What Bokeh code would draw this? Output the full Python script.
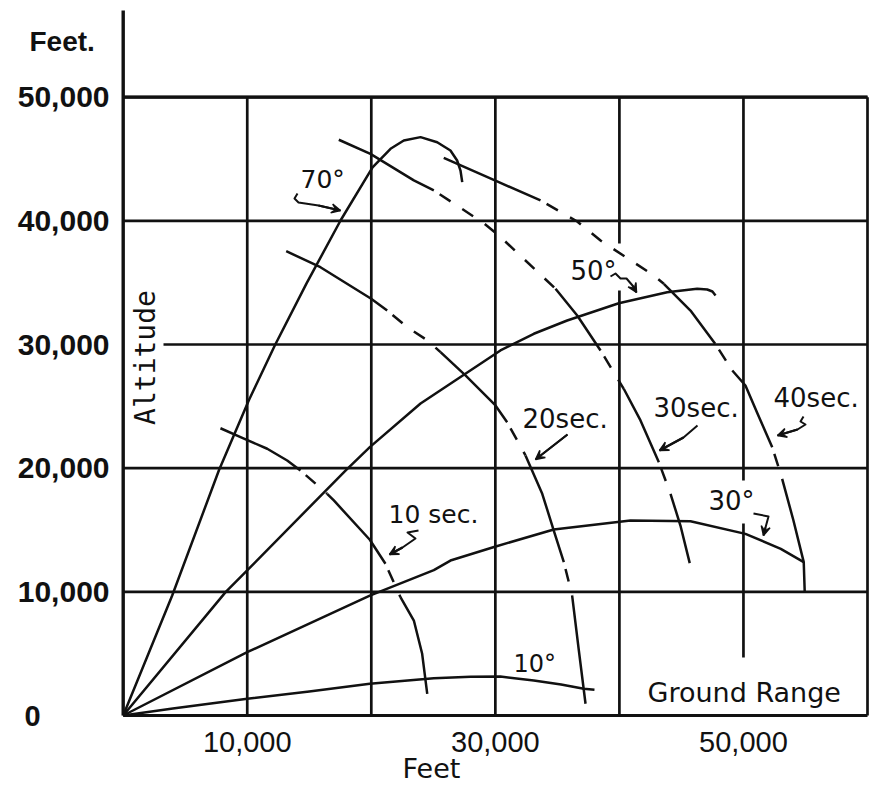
import math
from bokeh.plotting import figure
from bokeh.models import Range1d, Label, Arrow, VeeHead
from bokeh.embed import file_html
from bokeh.resources import INLINE

# ---------------- data (feet) ----------------
# trajectories (ground range, altitude) for each elevation
TRAJ_70_X = [0, 3950, 7710, 10120, 12220, 14780, 17520, 20100, 21550, 22620, 23970, 25310, 26380, 26920, 27190, 27330]
TRAJ_70_Y = [0, 9700, 19810, 25470, 29920, 34940, 40030, 44320, 45830, 46500, 46770, 46360, 45690, 44880, 44070, 43130]

TRAJ_50_X = [0, 8270, 9995, 17920, 19880, 23970, 30410, 33100, 35790, 39950, 43850, 46270, 47080, 47500, 47750]
TRAJ_50_Y = [0, 10000, 11730, 19810, 21700, 25230, 29520, 30870, 31940, 33340, 34230, 34510, 34450, 34290, 33970]

TRAJ_30_X = [0, 9995, 19880, 25040, 26380, 29830, 34710, 40890, 45730, 50160, 53010, 54860]
TRAJ_30_Y = [0, 5120, 9700, 11750, 12530, 13610, 15040, 15770, 15710, 14690, 13480, 12400]

TRAJ_10_X = [0, 4000, 7840, 10000, 15000, 19880, 25040, 28000, 30400, 33100, 35300, 37130, 37990]
TRAJ_10_Y = [0, 560, 1080, 1350, 1950, 2560, 3010, 3130, 3150, 2830, 2500, 2160, 2080]

# time contours (isochrones)
T10_X = [7840, 9460, 11610, 13220, 14290, 16440, 16980, 19880, 21140, 22350, 23430, 24100, 24510]
T10_Y = [23230, 22510, 21570, 20620, 19810, 17930, 17390, 14210, 12270, 9570, 7680, 4990, 1750]

T20_X = [13140, 15900, 19990, 21280, 22920, 24530, 25580, 27590, 30010, 30950, 32430, 33780, 34710, 35520, 36190, 36730, 37270]
T20_Y = [37550, 36250, 33700, 32750, 31380, 30330, 29380, 27500, 25070, 23720, 21030, 17930, 14960, 12400, 9700, 5260, 950]

T30_X = [17380, 19930, 23430, 25040, 29070, 30280, 34850, 36600, 38480, 40350, 41700, 43180, 44120, 44920, 45670]
T30_Y = [46560, 45420, 43270, 42460, 39810, 38820, 34510, 32350, 29520, 26420, 23860, 20480, 17930, 15360, 12320]

T40_X = [25840, 30280, 33640, 36600, 38480, 42770, 43580, 45730, 47720, 49100, 50160, 51130, 52320, 53120, 54030, 54860, 54940]
T40_Y = [45100, 43130, 41650, 39950, 38410, 35580, 34910, 32750, 30060, 27900, 26690, 24420, 21700, 19140, 15770, 12400, 9970]

# which stretches of each isochrone are drawn dashed (index ranges)
T10_PIECES = [(0, 4, False), (4, 5, True), (5, 8, False), (8, 9, True), (9, 12, False)]
T20_PIECES = [(0, 3, False), (3, 6, True), (6, 9, False), (9, 10, True), (10, 13, False), (13, 14, True), (14, 16, False)]
T30_PIECES = [(0, 3, False), (3, 6, True), (6, 8, False), (8, 9, True), (9, 11, False), (11, 12, True), (12, 14, False)]
T40_PIECES = [(0, 2, False), (2, 6, True), (6, 8, False), (8, 9, True), (9, 12, False), (12, 13, True), (13, 16, False)]

X_TICKS = [10000, 30000, 50000]
X_TICK_LABELS = ["10,000", "30,000", "50,000"]
Y_TICKS = [0, 10000, 20000, 30000, 40000, 50000]
Y_TICK_LABELS = ["0", "10,000", "20,000", "30,000", "40,000", "50,000"]
GRID_X = [10000, 20000, 30000, 40000, 50000]
GRID_Y = [10000, 20000, 30000, 40000, 50000]
X_MAX = 60000
GRID_TOP = 50000

# ---------------- layout ----------------
W, H = 870, 786
SX, SY = 0.012405, 0.012366          # px per foot
X0_PIX, Y0_PIX = 122.7, 715.0        # canvas position of the origin
x_start = -X0_PIX / SX
x_end = x_start + W / SX
y_start = -(H - Y0_PIX) / SY
y_end = y_start + H / SY


def X(px):
    return (px - X0_PIX) / SX


def Y(py):
    return (Y0_PIX - py) / SY


INK = "#111111"
LW = 2.5
DASH = "0 7 13 7"

p = figure(width=W, height=H, x_range=Range1d(x_start, x_end), y_range=Range1d(y_start, y_end),
           output_backend="svg", toolbar_location=None,
           x_axis_location=None, y_axis_location=None,
           min_border_left=0, min_border_right=0, min_border_top=0, min_border_bottom=0)
p.grid.visible = False
p.outline_line_color = None
p.background_fill_color = "white"
p.border_fill_color = "white"


def split(a, b, gaps):
    out = []
    cur = a
    for g0, g1 in sorted(gaps):
        if g0 > cur:
            out.append((cur, g0))
        cur = max(cur, g1)
    if cur < b:
        out.append((cur, b))
    return out


# gaps where the hand lettering interrupts the grid
V_GAPS = {40000: [(Y(290), Y(243))], 50000: [(Y(523), Y(480)), (0, Y(657))]}
H_GAPS = {30000: [(0, X(163))]}

gx, gy = [], []
for gxv in GRID_X:
    for s0, s1 in split(0, GRID_TOP, V_GAPS.get(gxv, [])):
        gx.append([gxv, gxv])
        gy.append([s0, s1])
for gyv in GRID_Y:
    for s0, s1 in split(0, X_MAX, H_GAPS.get(gyv, [])):
        gx.append([s0, s1])
        gy.append([gyv, gyv])
p.multi_line(gx, gy, line_color=INK, line_width=2.7)
# right border
p.line([X_MAX, X_MAX], [0, GRID_TOP], line_color=INK, line_width=2.7)
# top grid line drawn heavier
p.line([0, X_MAX], [GRID_TOP, GRID_TOP], line_color=INK, line_width=3.2)
# axes
p.line([0, 0], [0, Y(10)], line_color=INK, line_width=3.4)
p.line([0, X_MAX], [0, 0], line_color=INK, line_width=3.2)

# trajectories
for xs, ys in [(TRAJ_70_X, TRAJ_70_Y), (TRAJ_50_X, TRAJ_50_Y), (TRAJ_30_X, TRAJ_30_Y), (TRAJ_10_X, TRAJ_10_Y)]:
    p.line(xs, ys, line_color=INK, line_width=LW, line_join="round")

# isochrones
for xs, ys, pieces in [(T10_X, T10_Y, T10_PIECES), (T20_X, T20_Y, T20_PIECES),
                       (T30_X, T30_Y, T30_PIECES), (T40_X, T40_Y, T40_PIECES)]:
    for i0, i1, dashed in pieces:
        p.line(xs[i0:i1 + 1], ys[i0:i1 + 1], line_color=INK, line_width=LW, line_join="round",
               line_dash=DASH if dashed else "solid")

# pointer arrows (canvas-pixel layout)
ARROWS = [
    [(297, 193), (294, 198), (298, 202), (318, 205), (340, 210)],            # 70°
    [(610, 276), (615, 273), (620, 278), (626, 278), (632, 285), (636, 292)],  # 50°
    [(753, 513), (768, 516), (765, 527), (763, 535)],                       # 30°
    [(418, 530), (407, 532), (415, 538), (402, 547), (389, 554)],             # 10 sec
    [(567, 434), (535, 459)],                                               # 20 sec
    [(697, 425), (683, 437), (659, 450)],                                   # 30 sec
    [(803, 416), (800, 421), (805, 424), (797, 429), (777, 435)],             # 40 sec
]
for pts in ARROWS:
    ax = [X(a) for a, b in pts]
    ay = [Y(b) for a, b in pts]
    p.line(ax, ay, line_color=INK, line_width=2, line_join="round")
    p.add_layout(Arrow(end=VeeHead(size=9, line_color=INK, fill_color=INK, line_width=1.5),
                       x_start=ax[-2], y_start=ay[-2], x_end=ax[-1], y_end=ay[-1],
                       line_color=INK, line_width=2))


def lab(text, x, y, size, font="DejaVu Sans", style="normal", align="left", angle=0.0):
    p.add_layout(Label(x=x, y=y, text=text, text_font=font, text_font_size=f"{size}px",
                       text_font_style=style, text_color=INK, text_align=align,
                       text_baseline="middle", angle=angle))


# tick labels (positions are the vertical middle of each text)
for v, t in zip(Y_TICKS, Y_TICK_LABELS):
    if v == 0:
        lab(t, X(32), v, 29, "Liberation Sans", "bold", "center")
    else:
        lab(t, X(109), v, 30, "Liberation Sans", "bold", "right")
for v, t in zip(X_TICKS, X_TICK_LABELS):
    lab(t, v, Y(741), 29, "Liberation Sans", "normal", "center")

lab("Feet.", X(29), Y(41), 28, "Liberation Sans", "bold")
lab("Feet", X(402), Y(768), 27)
lab("Altitude", X(145), Y(357), 28, "DejaVu Sans Mono", angle=math.pi / 2, align="center")
lab("Ground Range", X(647), Y(692), 27)

# curve labels
lab("70°", X(300), Y(179), 25)
lab("50°", X(570), Y(270), 26)
lab("30°", X(708), Y(500), 26)
lab("10°", X(513), Y(663), 24)
lab("10 sec.", X(388), Y(514), 25)
lab("20sec.", X(522), Y(418), 26)
lab("30sec.", X(653), Y(407), 26)
lab("40sec.", X(773), Y(397), 26)

open("out.html", "w").write(file_html(p, INLINE))
